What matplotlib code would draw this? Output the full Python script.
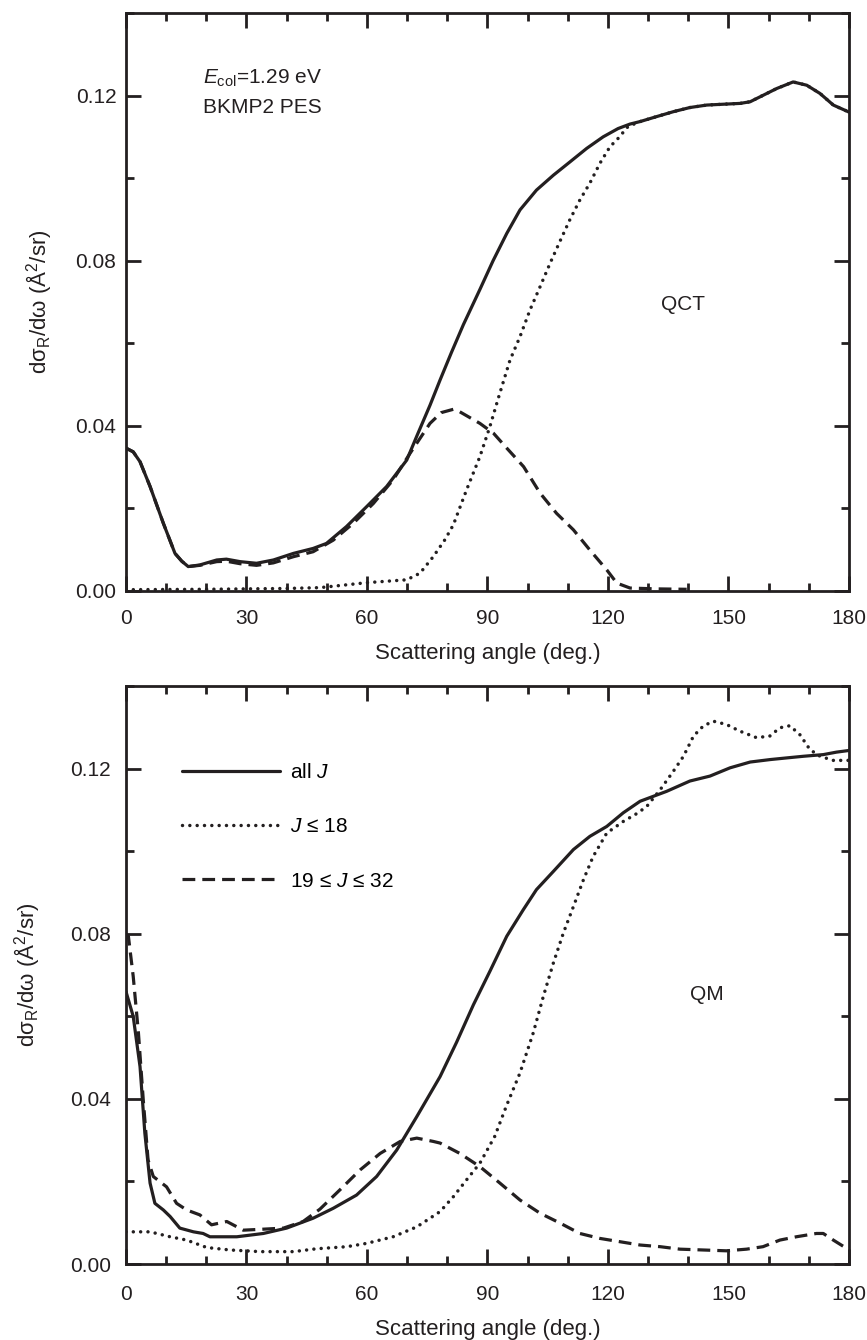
import matplotlib
matplotlib.use("Agg")
from matplotlib import pyplot as plt
from matplotlib.ticker import MultipleLocator

plt.rcParams['font.family'] = ['Liberation Sans', 'DejaVu Sans']
plt.rcParams['mathtext.fontset'] = 'custom'
plt.rcParams['mathtext.rm'] = 'Liberation Sans'
plt.rcParams['mathtext.it'] = 'Liberation Sans:italic'
plt.rcParams['font.size'] = 15

# ---- QCT (top panel) ----
qct_all_x = [0, 1.8, 3.5, 6, 9.3, 12.2, 13.9, 15.5, 18.4, 22.6, 25, 28.4, 32.5, 36.7, 41.7, 46.6,
             49.9, 54.9, 59.9, 64.9, 69.9, 72.4, 75.7, 78.2, 81, 84, 88.1, 91.4, 94.8, 98.1, 102.2,
             106.4, 110.5, 114.7, 118.8, 122.5, 125.5, 128, 132.1, 136.3, 140.4, 144.6, 148.7,
             152.9, 155.4, 158.7, 162, 166.1, 169.5, 172.8, 176.1, 180]
qct_all_y = [0.0346, 0.0337, 0.0313, 0.0253, 0.0164, 0.0091, 0.0072, 0.0059, 0.0063, 0.0075, 0.0077,
             0.0071, 0.0067, 0.0075, 0.0091, 0.0103, 0.0115, 0.0156, 0.0204, 0.0253, 0.0317, 0.0375,
             0.0450, 0.0511, 0.0577, 0.0645, 0.0730, 0.0800, 0.0866, 0.0923, 0.0971, 0.1007, 0.1039,
             0.1072, 0.1100, 0.1120, 0.1131, 0.1137, 0.1149, 0.1161, 0.1171, 0.1177, 0.1179, 0.1181,
             0.1185, 0.1201, 0.1217, 0.1233, 0.1225, 0.1205, 0.1177, 0.1160]

qct_low_x = [0, 1.8, 3.5, 6, 9.3, 12.2, 13.9, 15.5, 18.4, 22.6, 25, 28.4, 32.5, 36.7, 41.7, 46.6,
             51.6, 56.6, 61.6, 66.5, 70.7, 75.7, 78.5, 81.5, 83.1, 88.1, 91.5, 94.8, 99, 103.1,
             107.2, 111.4, 115.5, 119.7, 122.2, 125.5, 132, 139.6]
qct_low_y = [0.0346, 0.0337, 0.0313, 0.0253, 0.0164, 0.0091, 0.0072, 0.0059, 0.0062, 0.0071, 0.0072,
             0.0066, 0.0062, 0.0068, 0.0083, 0.0095, 0.0123, 0.0164, 0.0212, 0.0269, 0.0333, 0.0406,
             0.0432, 0.0440, 0.0434, 0.0406, 0.0382, 0.0346, 0.0301, 0.0237, 0.0188, 0.0148, 0.0099,
             0.0051, 0.0019, 0.0007, 0.0005, 0.0004]

qct_high_x = [0, 20, 40, 48.3, 59.9, 69.9, 73.2, 76.5, 79.4, 81.5, 84.8, 88.1, 90.6, 92.7, 95.6,
              98.1, 100.6, 103.1, 105.6, 108, 110.5, 113, 115.5, 118, 120.5, 122.5, 125, 128, 132.1,
              136.3, 140.4, 144.6, 148.7, 152.9, 155.4, 158.7, 162, 166.1, 169.5, 172.8, 176.1, 180]
qct_high_y = [0.0003, 0.0004, 0.0006, 0.0008, 0.0020, 0.0027, 0.0043, 0.0083, 0.0124, 0.0160, 0.0245,
              0.0325, 0.0398, 0.0467, 0.0559, 0.0616, 0.0681, 0.0737, 0.0794, 0.0846, 0.0899, 0.0947,
              0.0988, 0.1036, 0.1076, 0.1096, 0.1125, 0.1137, 0.1149, 0.1161, 0.1171, 0.1177, 0.1179,
              0.1181, 0.1185, 0.1201, 0.1217, 0.1233, 0.1225, 0.1205, 0.1177, 0.1160]

# ---- QM (bottom panel) ----
qm_all_x = [0, 1.8, 3.5, 4.7, 6, 7.2, 9.3, 11, 13.4, 16.8, 19.2, 20.9, 27.6, 34.2, 40, 46.6, 51.6,
            57.4, 62.4, 67.4, 72.4, 78.2, 82.3, 86.5, 90.6, 94.8, 98.9, 102.2, 106.4, 111.4, 115.5,
            119.7, 123.8, 128, 134.6, 140.4, 145.4, 150.4, 155.4, 160.4, 164.5, 168.7, 173.6, 176.9,
            180]
qm_all_y = [0.0660, 0.0600, 0.0478, 0.0317, 0.0196, 0.0147, 0.0131, 0.0115, 0.0087, 0.0078, 0.0074,
            0.0066, 0.0066, 0.0074, 0.0087, 0.0111, 0.0135, 0.0167, 0.0212, 0.0276, 0.0357, 0.0454,
            0.0537, 0.0628, 0.0709, 0.0794, 0.0858, 0.0907, 0.0951, 0.1004, 0.1036, 0.1060, 0.1093,
            0.1121, 0.1145, 0.1170, 0.1182, 0.1202, 0.1216, 0.1222, 0.1226, 0.1230, 0.1234, 0.1240,
            0.1244]

qm_low_x = [0, 0.6, 1.8, 3.1, 4.3, 5.5, 6.8, 10.1, 12.6, 15.1, 18.4, 21.3, 25.1, 29.2, 33.4, 39.2,
            44.1, 48.3, 53.3, 58.3, 63.3, 68.3, 72.4, 76.5, 78.2, 83.1, 88.1, 93.1, 98.1, 103.1,
            108.1, 113, 118, 123, 128, 133, 137.9, 143.7, 149.5, 154.5, 158.6, 162.8, 166.9, 171.9,
            173.6, 176.1, 179.4, 180]
qm_low_y = [0.0800, 0.0794, 0.0697, 0.0560, 0.0398, 0.0252, 0.0212, 0.0187, 0.0147, 0.0131, 0.0119,
            0.0095, 0.0103, 0.0082, 0.0084, 0.0087, 0.0103, 0.0133, 0.0180, 0.0228, 0.0268, 0.0297,
            0.0305, 0.0297, 0.0293, 0.0268, 0.0236, 0.0196, 0.0155, 0.0123, 0.0099, 0.0074, 0.0062,
            0.0054, 0.0046, 0.0042, 0.0036, 0.0034, 0.0032, 0.0036, 0.0042, 0.0058, 0.0066, 0.0074,
            0.0074, 0.0058, 0.0038, 0.0036]

qm_high_x = [0, 1, 6, 11, 15.1, 20.1, 25.9, 33.4, 41.7, 47.5, 55, 59.9, 66.5, 72.4, 78.2, 81.5,
             84.8, 88.1, 91.8, 94.8, 98.1, 101.4, 103.9, 106.4, 108.9, 111.4, 113.9, 116.3, 119.7,
             123.8, 127.5, 129.7, 133, 136.3, 138.8, 141.3, 143.7, 146.2, 149.5, 152.8, 157, 160.3,
             162.8, 165.3, 167.8, 170.3, 172.8, 176.1, 180]
qm_high_y = [0.0078, 0.0078, 0.0078, 0.0066, 0.0058, 0.0040, 0.0034, 0.0030, 0.0030, 0.0037, 0.0042,
             0.0050, 0.0066, 0.0090, 0.0127, 0.0163, 0.0204, 0.0244, 0.0309, 0.0385, 0.0463, 0.0560,
             0.0648, 0.0729, 0.0802, 0.0866, 0.0931, 0.0987, 0.1044, 0.1072, 0.1093, 0.1109, 0.1149,
             0.1194, 0.1230, 0.1279, 0.1303, 0.1315, 0.1307, 0.1291, 0.1275, 0.1279, 0.1299, 0.1304,
             0.1282, 0.1246, 0.1230, 0.1220, 0.1220]

y_ticks = [0.00, 0.04, 0.08, 0.12]
x_ticks = [0, 30, 60, 90, 120, 150, 180]
ylab = "d\u03c3$_{\\rm R}$/d\u03c9 (\u00c5$^{2}$/sr)"
ink = '#231f20'

fig = plt.figure(figsize=(8.67, 13.4), dpi=100)
ax1 = fig.add_axes([0.1453, 0.5590, 0.8339, 0.4313])
ax2 = fig.add_axes([0.1453, 0.0567, 0.8339, 0.4313])

solid = dict(color=ink, lw=2.3, solid_capstyle='round', solid_joinstyle='round')
dotted = dict(color=ink, lw=2.5, linestyle=(0, (0.01, 2.1)), dash_capstyle='round')
dashed = dict(color=ink, lw=2.3, linestyle=(0, (4, 2.2)), dash_joinstyle='round')

ax1.plot(qct_high_x, qct_high_y, **dotted)
ax1.plot(qct_low_x, qct_low_y, **dashed)
ax1.plot(qct_all_x, qct_all_y, **solid)

ax2.plot(qm_high_x, qm_high_y, label="$J$ \u2264 18", **dotted)
ax2.plot(qm_low_x, qm_low_y, label="19 \u2264 $J$ \u2264 32", **dashed)
ax2.plot(qm_all_x, qm_all_y, label="all $J$", **solid)

for ax in (ax1, ax2):
    ax.set_xlim(0, 180)
    ax.set_ylim(0, 0.14)
    ax.set_xticks(x_ticks)
    ax.set_yticks(y_ticks)
    ax.set_yticklabels([f"{v:.2f}" for v in y_ticks])
    ax.xaxis.set_minor_locator(MultipleLocator(10))
    ax.yaxis.set_minor_locator(MultipleLocator(0.02))
    ax.tick_params(which='both', direction='in', top=True, right=True, width=2, colors=ink,
                   labelcolor=ink, labelsize=15)
    ax.tick_params(which='major', length=11)
    ax.tick_params(which='minor', length=5.5)
    for s in ax.spines.values():
        s.set_linewidth(2)
        s.set_color(ink)

ax1.tick_params(axis='x', pad=13)
ax2.tick_params(axis='x', pad=15)
ax1.tick_params(axis='y', pad=7)
ax2.tick_params(axis='y', pad=11)
ax1.set_xlabel("Scattering angle (deg.)", fontsize=16, labelpad=11, color=ink)
ax2.set_xlabel("Scattering angle (deg.)", fontsize=16, labelpad=11, color=ink)
ax1.set_ylabel(ylab, fontsize=16, labelpad=15, color=ink)
ax2.set_ylabel(ylab, fontsize=16, labelpad=20, color=ink)

ax1.text(19.2, 0.1242, "$E_{\\rm col}$=1.29 eV", fontsize=15, va='center', color=ink)
ax1.text(19.2, 0.1170, "BKMP2 PES", fontsize=15, va='center', color=ink)
ax1.text(138.7, 0.0693, "QCT", fontsize=15, ha='center', va='center', color=ink)
ax2.text(144.6, 0.0652, "QM", fontsize=15, ha='center', va='center', color=ink)

h, l = ax2.get_legend_handles_labels()
order = [2, 0, 1]
ax2.legend([h[i] for i in order], [l[i] for i in order], loc='upper left',
           bbox_to_anchor=(0.0775, 0.867), frameon=False, borderpad=0, borderaxespad=0,
           handlelength=4.7, handletextpad=0.5, labelspacing=1.7, fontsize=15)

fig.savefig("out.png", dpi=100)
